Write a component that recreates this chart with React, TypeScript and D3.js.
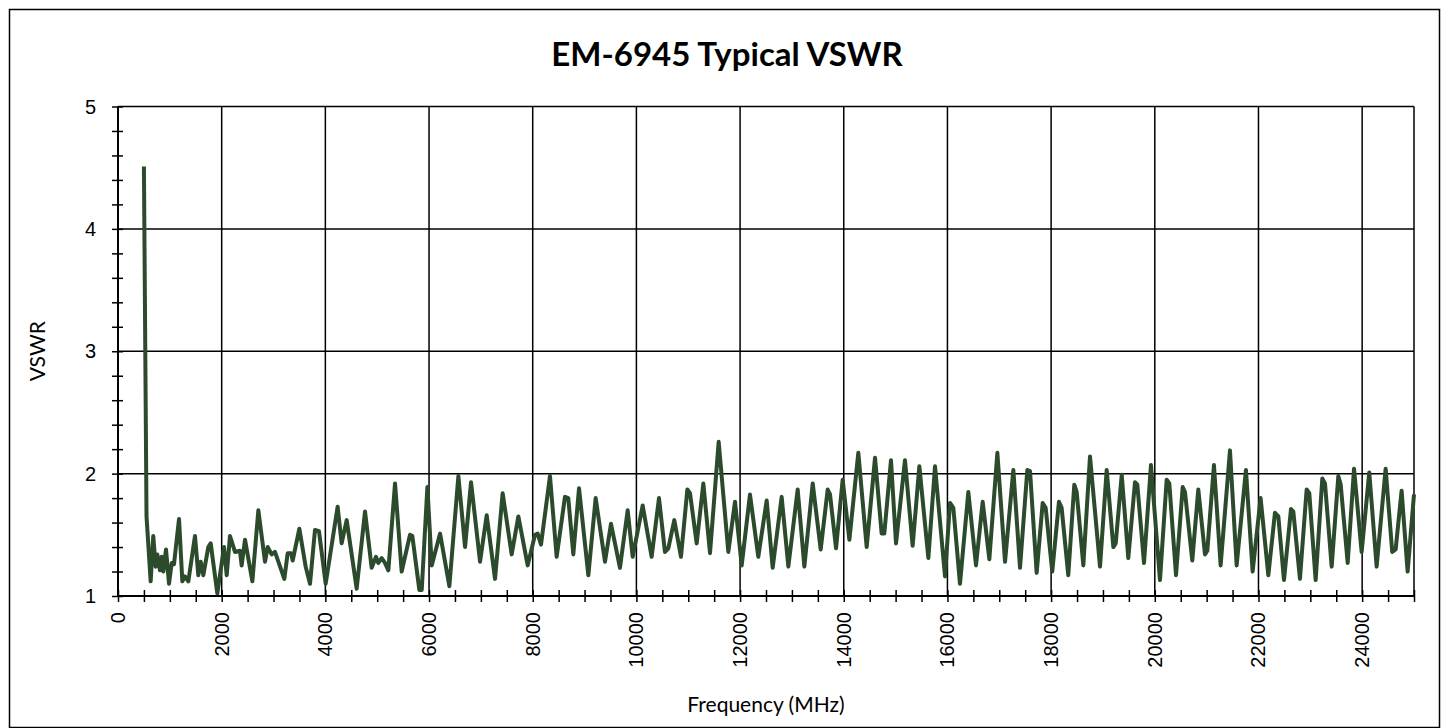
import { useEffect, useRef } from 'react'
import { select, scaleLinear, line, range, axisLeft, axisBottom } from 'd3'

// values (peaks / troughs)
const freqMHz = [
  500, 550, 630, 680, 727, 758, 810, 843, 874, 926, 984, 1036, 1080, 1177, 1241, 1292, 1357, 1485, 1549, 1595,
  1646, 1742, 1788, 1916, 2045, 2097, 2160, 2257, 2353, 2385, 2450, 2592, 2707, 2836, 2887, 2964, 3028, 3208, 3273, 3340,
  3370, 3498, 3620, 3704, 3800, 3877, 4006, 4237, 4314, 4411, 4604, 4765, 4893, 4977, 5022, 5086, 5150, 5215, 5344, 5472,
  5633, 5678, 5813, 5859, 5968, 6052, 6213, 6392, 6566, 6695, 6810, 6984, 7112, 7273, 7420, 7594, 7723, 7903, 8044, 8096,
  8160, 8333, 8462, 8622, 8686, 8783, 8893, 9073, 9214, 9394, 9510, 9683, 9832, 9928, 10121, 10294, 10436, 10551, 10616, 10731,
  10860, 10983, 11034, 11163, 11291, 11420, 11587, 11773, 11902, 12031, 12191, 12351, 12513, 12629, 12802, 12931, 13111, 13240, 13401, 13555,
  13690, 13735, 13851, 13979, 14108, 14281, 14442, 14603, 14731, 14782, 14911, 15008, 15181, 15329, 15458, 15632, 15760, 15953, 16049, 16114,
  16242, 16403, 16551, 16680, 16808, 16963, 17111, 17271, 17400, 17541, 17593, 17721, 17837, 17895, 18022, 18151, 18203, 18331, 18447, 18493,
  18621, 18750, 18943, 19072, 19200, 19246, 19362, 19489, 19618, 19663, 19792, 19926, 20100, 20229, 20280, 20409, 20538, 20582, 20723, 20839,
  20968, 21013, 21141, 21270, 21450, 21579, 21758, 21887, 22041, 22190, 22318, 22383, 22492, 22627, 22672, 22800, 22929, 22980, 23103, 23231,
  23283, 23412, 23540, 23586, 23721, 23843, 23990, 24137, 24279, 24453, 24580, 24646, 24761, 24877, 25000,
]
const vswr = [
  4.51, 1.65, 1.12, 1.49, 1.24, 1.34, 1.21, 1.32, 1.2, 1.38, 1.1, 1.27, 1.26, 1.63, 1.12, 1.16, 1.12, 1.49, 1.17, 1.28,
  1.17, 1.4, 1.43, 1.02, 1.4, 1.17, 1.49, 1.36, 1.37, 1.25, 1.46, 1.12, 1.7, 1.28, 1.4, 1.34, 1.36, 1.14, 1.35, 1.35,
  1.29, 1.55, 1.24, 1.1, 1.54, 1.53, 1.1, 1.73, 1.43, 1.62, 1.06, 1.69, 1.23, 1.32, 1.27, 1.31, 1.27, 1.21, 1.92, 1.2,
  1.5, 1.49, 1.05, 1.05, 1.89, 1.25, 1.51, 1.08, 1.98, 1.4, 1.93, 1.28, 1.66, 1.14, 1.84, 1.34, 1.65, 1.25, 1.5, 1.51,
  1.42, 1.98, 1.32, 1.81, 1.8, 1.34, 1.88, 1.17, 1.8, 1.28, 1.59, 1.23, 1.7, 1.32, 1.74, 1.32, 1.8, 1.36, 1.39, 1.62,
  1.32, 1.87, 1.84, 1.43, 1.92, 1.35, 2.26, 1.36, 1.77, 1.25, 1.83, 1.32, 1.78, 1.23, 1.81, 1.24, 1.87, 1.24, 1.92, 1.38,
  1.87, 1.83, 1.39, 1.95, 1.46, 2.17, 1.4, 2.13, 1.51, 1.51, 2.11, 1.43, 2.11, 1.41, 2.06, 1.31, 2.06, 1.16, 1.76, 1.72,
  1.1, 1.85, 1.25, 1.77, 1.3, 2.17, 1.28, 2.03, 1.23, 2.03, 2.02, 1.19, 1.76, 1.72, 1.2, 1.77, 1.72, 1.17, 1.91, 1.85,
  1.25, 2.14, 1.24, 2.03, 1.4, 1.43, 1.99, 1.31, 1.93, 1.91, 1.27, 2.07, 1.13, 1.95, 1.92, 1.17, 1.89, 1.85, 1.29, 1.87,
  1.34, 1.37, 2.07, 1.25, 2.19, 1.25, 2.03, 1.2, 1.8, 1.17, 1.68, 1.65, 1.13, 1.71, 1.69, 1.14, 1.87, 1.84, 1.13, 1.96,
  1.92, 1.24, 1.98, 1.91, 1.27, 2.04, 1.36, 2.01, 1.24, 2.04, 1.36, 1.38, 1.86, 1.2, 1.83,
]

const xTickLabels = [0, 2000, 4000, 6000, 8000, 10000, 12000, 14000, 16000, 18000, 20000, 22000, 24000]
const yTickLabels = [1, 2, 3, 4, 5]

const TITLE = 'EM-6945 Typical VSWR'
const X_TITLE = 'Frequency (MHz)'
const Y_TITLE = 'VSWR'

export default function App() {
  const svgRef = useRef<SVGSVGElement>(null)

  useEffect(() => {
    const W = 1449
    const H = 728
    const left = 118, right = 1414, top = 106.5, bottom = 596

    const svg = select(svgRef.current)
    svg.selectAll('*').remove()

    const x = scaleLinear().domain([0, 25000]).range([left, right])
    const y = scaleLinear().domain([1, 5]).range([bottom, top])

    svg.append('rect').attr('width', W).attr('height', H).attr('fill', '#fff')
    // outer chart border
    svg.append('rect')
      .attr('x', 9.5).attr('y', 9.5).attr('width', 1430).attr('height', 718)
      .attr('fill', 'none').attr('stroke', '#000').attr('stroke-width', 1.5)

    svg.append('text')
      .attr('x', 727).attr('y', 66)
      .attr('text-anchor', 'middle')
      .style('font', 'bold 33px Lato, "Open Sans", sans-serif')
      .text(TITLE)

    // grid
    const grid = svg.append('g').attr('stroke', '#000').attr('stroke-width', 1.5)
    grid.selectAll('line.v')
      .data(range(2000, 25001, 2000))
      .join('line')
      .attr('x1', d => x(d)).attr('x2', d => x(d))
      .attr('y1', top).attr('y2', bottom)
    grid.selectAll('line.h')
      .data(yTickLabels.slice(1))
      .join('line')
      .attr('class', 'h')
      .attr('x1', left).attr('x2', right)
      .attr('y1', d => y(d)).attr('y2', d => y(d))
    grid.append('line')
      .attr('x1', right).attr('x2', right).attr('y1', top).attr('y2', bottom)

    // axes: ticks cross the axis line
    const yAx = svg.append('g')
      .attr('transform', `translate(${left + 5},0)`)
      .call(axisLeft(y).tickValues(range(1, 5.01, 0.2)).tickSize(11).tickFormat(() => ''))
    yAx.select('.domain').remove()
    yAx.selectAll('line').attr('stroke-width', 1.5)
    svg.append('line')
      .attr('x1', left).attr('x2', left).attr('y1', top).attr('y2', bottom + 1)
      .attr('stroke', '#000').attr('stroke-width', 2)
    svg.append('g').selectAll('text')
      .data(yTickLabels)
      .join('text')
      .attr('x', 96).attr('y', d => y(d))
      .attr('dy', '0.35em')
      .attr('text-anchor', 'end')
      .style('font', '20px "Liberation Sans", Arial, sans-serif')
      .text(d => d)

    const xAx = svg.append('g')
      .attr('transform', `translate(0,${bottom - 6})`)
      .call(axisBottom(x).tickValues(range(0, 25001, 500)).tickSize(12).tickFormat(() => ''))
    xAx.select('.domain').remove()
    xAx.selectAll('line').attr('stroke-width', 1.5)
    svg.append('line')
      .attr('x1', left).attr('x2', right).attr('y1', bottom).attr('y2', bottom)
      .attr('stroke', '#000').attr('stroke-width', 2)
    svg.append('g').selectAll('text')
      .data(xTickLabels)
      .join('text')
      .attr('transform', d => `translate(${x(d)},612) rotate(-90)`)
      .attr('dy', '0.35em')
      .attr('text-anchor', 'end')
      .style('font', '20px "Liberation Sans", Arial, sans-serif')
      .text(d => d)

    svg.append('text')
      .attr('x', (left + right) / 2).attr('y', 712)
      .attr('text-anchor', 'middle')
      .style('font', '21px Lato, "Open Sans", sans-serif')
      .text(X_TITLE)
    svg.append('text')
      .attr('transform', `translate(38,${(top + bottom) / 2}) rotate(-90)`)
      .attr('dy', '0.35em')
      .attr('text-anchor', 'middle')
      .style('font', '21px Lato, "Open Sans", sans-serif')
      .text(Y_TITLE)

    const pts = freqMHz.map((f, i) => [f, vswr[i]] as [number, number])
    const path = line<[number, number]>().x(d => x(d[0])).y(d => y(d[1]))
    svg.append('path')
      .datum(pts)
      .attr('d', path)
      .attr('fill', 'none')
      .attr('stroke', '#2c4a2c')
      .attr('stroke-width', 4)
      .attr('stroke-linejoin', 'round')
  }, [])

  return (
    <svg ref={svgRef} width={1449} height={728}
      style={{ position: 'absolute', left: 0, top: 0, display: 'block' }} />
  )
}
